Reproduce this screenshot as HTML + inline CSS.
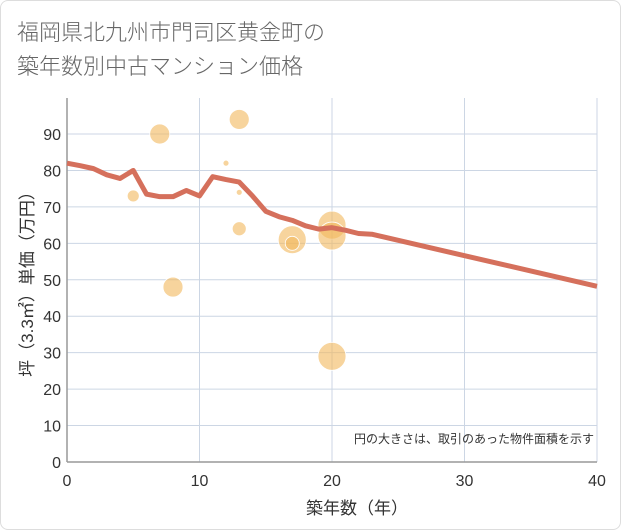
<!DOCTYPE html>
<html><head><meta charset="utf-8"><style>
body{margin:0;width:621px;height:530px;background:#fff;font-family:"Liberation Sans","Noto Sans CJK JP",sans-serif;overflow:hidden}
.card{position:absolute;left:0;top:0;width:619px;height:528px;border:1px solid #ddd;border-radius:8px;background:#fff}
.title{position:absolute;left:17px;top:14px;font-size:22px;line-height:34px;color:#666;font-family:"Noto Sans CJK JP",sans-serif;font-weight:300}
svg{position:absolute;left:0;top:0}
text{font-family:"Liberation Sans","Noto Sans CJK JP",sans-serif;fill:#333}
</style></head><body>
<div class="card"></div>
<div class="title">福岡県北九州市門司区黄金町の<br>築年数別中古マンション価格</div>
<svg id="c" width="621" height="530"></svg>
<script>
const lineX=[0,1,2,3,4,5,6,7,8,9,10,11,12,13,14,15,16,17,18,19,20,21,22,23,40];
const lineY=[82,81.3,80.5,78.8,77.8,80,73.5,72.8,72.8,74.5,73,78.3,77.5,76.8,73,68.8,67.3,66.3,64.8,63.9,64.3,63.6,62.7,62.5,48.2];
const bubX=[5,7,8,12,13,13,13,17,17,20,20,20];
const bubY=[73,90,48,82,94,74,64,61,60,65,62,29];
const bubR=[6,10,10,3,10,3,7,14,7,14,14,14];
const xTicks=[0,10,20,30,40];
const yTicks=[0,10,20,30,40,50,60,70,80,90];
const ns="http://www.w3.org/2000/svg",svg=document.getElementById('c');
const L=67,R=597,T=98,B=462;
const sx=v=>L+(v/40)*(R-L), sy=v=>B-(v/90)*(B-134);
function mk(t,a,p){const e=document.createElementNS(ns,t);for(const k in a)e.setAttribute(k,a[k]);(p||svg).appendChild(e);return e;}
let bg=mk('rect',{x:L,y:T,width:R-L,height:B-T,fill:'#fff'});


yTicks.forEach(v=>{
 let g=mk('line',{x1:L,x2:R,y1:sy(v),y2:sy(v),stroke:'#ccd6e4','stroke-width':1});
 
 
 let t=mk('text',{x:L-6,y:sy(v)+6,'text-anchor':'end','font-size':16});t.textContent=v;
 
 
});
xTicks.forEach(v=>{
 let g=mk('line',{x1:sx(v),x2:sx(v),y1:T,y2:B,stroke:'#ccd6e4','stroke-width':1});
 
 
 let t=mk('text',{x:sx(v),y:B+24,'text-anchor':'middle','font-size':16});t.textContent=v;
 
 
});
let ax=mk('line',{x1:L,x2:L,y1:T,y2:B,stroke:'#999','stroke-width':1.5});


let ax2=mk('line',{x1:L,x2:R,y1:B,y2:B,stroke:'#999','stroke-width':1.5});


bubX.forEach((x,i)=>{
 let c=mk('circle',{cx:sx(x),cy:sy(bubY[i]),r:bubR[i],fill:'rgba(242,184,92,0.6)',stroke:'#fff','stroke-width':0.8});
 
 
});
let p=mk('polyline',{points:lineX.map((x,i)=>sx(x)+','+sy(lineY[i])).join(' '),fill:'none',stroke:'#d5705c','stroke-width':5,'stroke-linejoin':'round'});


let n=mk('text',{x:594,y:443,'text-anchor':'end','font-size':12});n.textContent='円の大きさは、取引のあった物件面積を示す';


let xt=mk('text',{x:357,y:514,'text-anchor':'middle','font-size':17});xt.textContent='築年数（年）';


let yt=mk('text',{x:0,y:0,'text-anchor':'middle','font-size':17,transform:'translate(33,280) rotate(-90)'});yt.textContent='坪（3.3㎡）単価（万円）';


</script>
</body></html>
